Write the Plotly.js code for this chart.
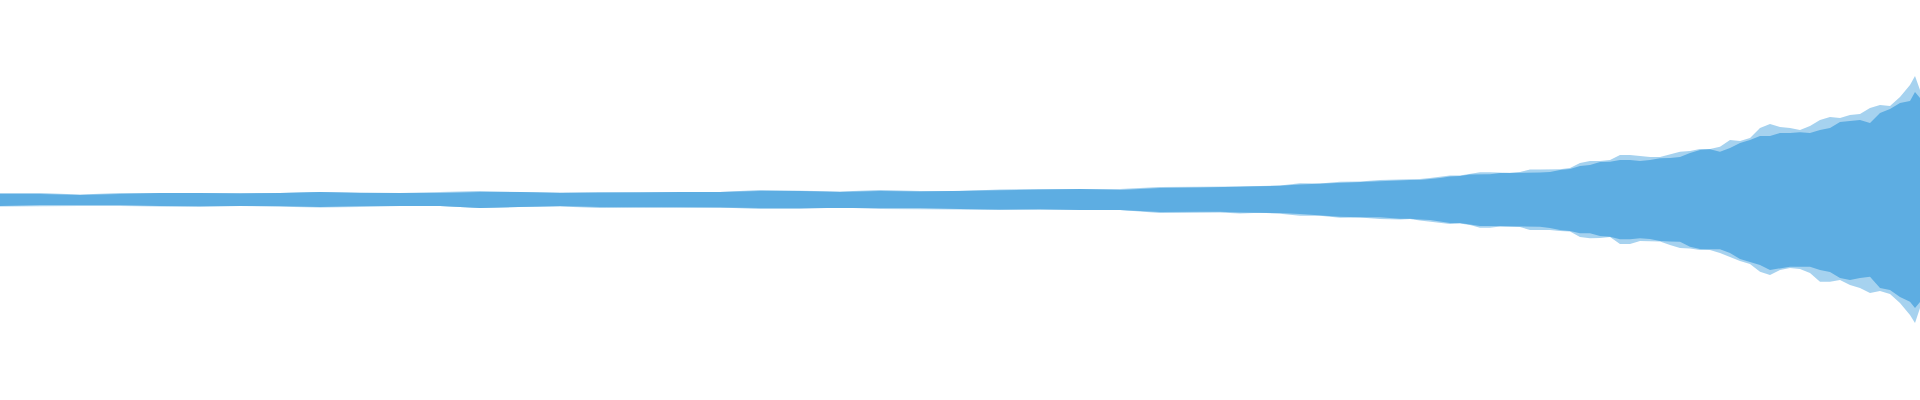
<!DOCTYPE html>
<html>
<head>
<meta charset="utf-8">
<script src="https://cdn.plot.ly/plotly-3.0.1.min.js"></script>
<style>
  html, body { margin: 0; padding: 0; background: #ffffff; }
  #chart { width: 1920px; height: 400px; }
</style>
</head>
<body>
<div id="chart"></div>
<script>
// sample positions (time index)
const time = [0,40,80,120,160,200,240,280,320,360,400,440,480,520,560,600,640,680,720,760,800,840,880,920,960,1000,1040,1080,1120,1160,1200,
  1220,1240,1260,1280,1300,1320,1340,1360,1380,1400,
  1410,1420,1430,1440,1450,1460,1470,1480,1490,1500,1510,1520,1530,1540,1550,1560,1570,1580,1590,1600,
  1610,1620,1630,1640,1650,1660,1670,1680,1690,1700,1710,1720,1730,1740,1750,1760,1770,1780,1790,1800,
  1810,1820,1830,1840,1850,1860,1870,1880,1890,1900,1910,1915,1920];

// dense (solid) envelope, upper side
const innerTop = [6,6,5,6,7,7,6.5,7,8,7,7,7,8,8,7,7,7.5,8,8,9,9,8,9,8.5,9,10,10,11,10,12,12.5,
  13,13,14,14.3,15.5,16.3,17.3,18.3,19,20,
  20,20,20.7,22,23.5,24,25.5,25.7,25.7,27,27,27.5,27.5,27.5,28,30,31,34,35,38,
  38.3,40,40,39,40,41.7,42,43,47,50,50.7,48.3,52,57,60,64,64,67,67,67.7,
  67,70,72,78,79,80,77,87,91,97,99,108,102];

// peak envelope, upper side
const outerTop = [7,7,5.5,7,7,7,7,7,8,7.5,7,8,9,8,7.5,8,8,8,8,10,9.5,8.5,10,9,9,10.5,11,11,11,13,13,
  13,13.5,14,14.5,16.7,16.5,18.3,18.5,20,20.5,
  20,21,22,23,24.5,24.5,26,27.7,27.7,27.5,27,28,30.5,30.5,30.5,30.7,32,37,39,39,
  40,45,45,44,43,43,46,48.3,49,51,51,53.3,60,59,62,72,76,73,72,70,
  74,80,83,82,85,86,92,95,94,103,115,124,110];

// dense (solid) envelope, lower side
const innerBottom = [-6,-5,-5,-5,-6,-6,-6,-6,-7,-6,-6,-6,-8,-7,-6,-7,-7,-7,-7.5,-8,-8,-7.5,-8,-8,-9,-9.5,-9,-10,-10,-12,-11.7,
  -11.7,-12.5,-12.7,-13,-14,-15.7,-16.7,-17.3,-17.3,-18.7,
  -18.7,-19.5,-20,-21.5,-23,-23,-24.5,-26,-26,-26,-26.7,-26.7,-26.7,-26.7,-28,-30,-31,-33.3,-33.3,-36,
  -36.7,-39.3,-39.3,-38.3,-39,-41,-41.5,-41.7,-46.7,-49,-49.3,-49.3,-53,-59,-62,-65,-70,-68,-66.7,-66.7,
  -66.7,-70,-72,-78,-80,-78,-76.7,-88,-90,-97,-101.7,-108,-102];

// peak envelope, lower side
const outerBottom = [-6.5,-6,-6,-6,-6.5,-7,-6,-7,-7.5,-7,-6,-6,-8,-7,-6.5,-8,-7.5,-7.5,-7.5,-9,-9,-7.5,-9,-9,-9.5,-10,-10,-10.5,-10,-13,-12.5,
  -12.5,-13.5,-12.7,-13.7,-15.7,-15.7,-17.7,-17.5,-19,-19.5,
  -19,-20.5,-21.7,-22.5,-24,-23.5,-25,-27.7,-27.7,-26.5,-26.7,-27,-30,-30,-30,-31,-31.5,-37,-38.3,-38,
  -37,-44,-44,-41,-41,-41.5,-45,-48,-48.5,-50,-50,-53,-57,-61,-64,-71.7,-75,-70,-68,-69,
  -73,-81.7,-81.7,-80,-85,-88,-93,-91,-94,-103,-115,-123,-108];

const blue = '#5DADE2';

const traces = [
  { x: time, y: outerTop, type: 'scatter', mode: 'lines', line: { width: 0, color: blue }, hoverinfo: 'skip', showlegend: false },
  { x: time, y: outerBottom, type: 'scatter', mode: 'lines', fill: 'tonexty', fillcolor: 'rgba(93,173,226,0.55)', line: { width: 0, color: blue }, hoverinfo: 'skip', showlegend: false },
  { x: time, y: innerTop, type: 'scatter', mode: 'lines', line: { width: 0, color: blue }, hoverinfo: 'skip', showlegend: false },
  { x: time, y: innerBottom, type: 'scatter', mode: 'lines', fill: 'tonexty', fillcolor: blue, line: { width: 0, color: blue }, hoverinfo: 'skip', showlegend: false }
];

const layout = {
  width: 1920,
  height: 400,
  margin: { l: 0, r: 0, t: 0, b: 0, pad: 0 },
  paper_bgcolor: '#ffffff',
  plot_bgcolor: '#ffffff',
  showlegend: false,
  xaxis: { range: [0, 1920], autorange: false, visible: false, showgrid: false, zeroline: false, fixedrange: true },
  yaxis: { range: [-200, 200], autorange: false, visible: false, showgrid: false, zeroline: false, fixedrange: true }
};

Plotly.newPlot('chart', traces, layout, { displayModeBar: false, staticPlot: true });
</script>
</body>
</html>
